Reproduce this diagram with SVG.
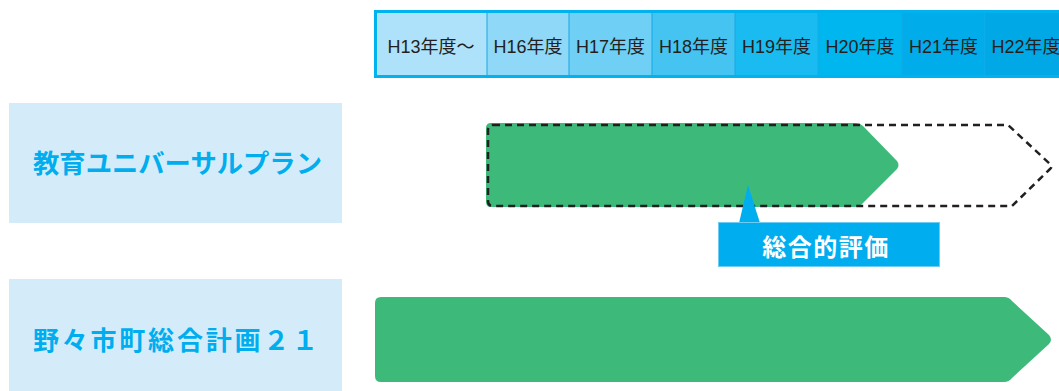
<svg xmlns="http://www.w3.org/2000/svg" width="1059" height="391" viewBox="0 0 1059 391">
<style>
.hd{font-family:"Liberation Sans","Noto Sans CJK JP",sans-serif;font-size:18px;fill:#231f20;text-anchor:middle}
.lbl{fill:#d4ecfa}
.lt{font-family:"Noto Sans CJK JP",sans-serif;font-weight:bold;fill:#00aeef;font-size:26px}
.green{fill:#3dba7a}
.dash{fill:none;stroke:#231f20;stroke-width:2.5;stroke-dasharray:7 5}
.sep{stroke:#14a9e3;stroke-width:1}
</style>
<g id="header">
<rect x="374" y="10" width="700" height="68" fill="#00b2ee"/>
<rect x="377" y="13" width="110" height="62" fill="#aee1fa"/>
<rect x="487" y="13" width="82" height="62" fill="#8fd8f7"/>
<rect x="569" y="13" width="83" height="62" fill="#6fcff5"/>
<rect x="652" y="13" width="83" height="62" fill="#45c4f2"/>
<rect x="735" y="13" width="83" height="62" fill="#1abbf0"/>
<rect x="818" y="13" width="84" height="62" fill="#00b6ef"/>
<rect x="902" y="13" width="83" height="62" fill="#00adea"/>
<rect x="985" y="13" width="83" height="62" fill="#00a8e6"/>
<line class="sep" x1="487" y1="13" x2="487" y2="75"/>
<line class="sep" x1="569" y1="13" x2="569" y2="75"/>
<line class="sep" x1="652" y1="13" x2="652" y2="75"/>
<line class="sep" x1="735" y1="13" x2="735" y2="75"/>
<line class="sep" x1="818" y1="13" x2="818" y2="75"/>
<line class="sep" x1="902" y1="13" x2="902" y2="75"/>
<line class="sep" x1="985" y1="13" x2="985" y2="75"/>
<text class="hd" x="431" y="53">H13年度～</text>
<text class="hd" x="528" y="53">H16年度</text>
<text class="hd" x="610.5" y="53">H17年度</text>
<text class="hd" x="693.5" y="53">H18年度</text>
<text class="hd" x="776.5" y="53">H19年度</text>
<text class="hd" x="860" y="53">H20年度</text>
<text class="hd" x="943.5" y="53">H21年度</text>
<text class="hd" x="1026" y="53">H22年度</text>
</g>
<g id="label-plan">
<rect class="lbl" x="9" y="103" width="333" height="120"/>
<text class="lt" x="33" y="173" textLength="289" lengthAdjust="spacingAndGlyphs">教育ユニバーサルプラン</text>
</g>
<g id="label-sogo">
<rect class="lbl" x="9" y="279" width="333" height="112"/>
<text class="lt" x="33" y="350" textLength="285" lengthAdjust="spacing">野々市町総合計画２１</text>
</g>
<g id="bar-plan">
<path class="green" d="M491,123 H856 Q860,123 863,126 L897,161 Q900,165 897,169 L862,204 Q859,207 855,207 H491 Q486,207 486,202 V128 Q486,123 491,123 Z"/>
<path class="dash" d="M493,125 H1008 L1050,164 Q1053,166 1050,169 L1012,206 H493 Q488,206 488,201 V130 Q488,125 493,125 Z"/>
</g>
<g id="bar-sogo">
<path class="green" d="M381,297 H1004 Q1009,297 1012,301 L1049,335 Q1053,339.5 1049,344 L1012,378 Q1009,382 1004,382 H381 Q375,382 375,376 V303 Q375,297 381,297 Z"/>
</g>
<g id="connectors">
<polygon points="739,223 748,185 760,223" fill="#00aeef"/>
</g>
<g id="callout">
<rect x="718.5" y="222.5" width="221" height="44" fill="#00aeef" stroke="#6fcdf3" stroke-width="1"/>
<text x="826" y="256" font-family="Noto Sans CJK JP,sans-serif" font-weight="bold" font-size="24" fill="#ffffff" text-anchor="middle" letter-spacing="1.5">総合的評価</text>
</g>
</svg>
